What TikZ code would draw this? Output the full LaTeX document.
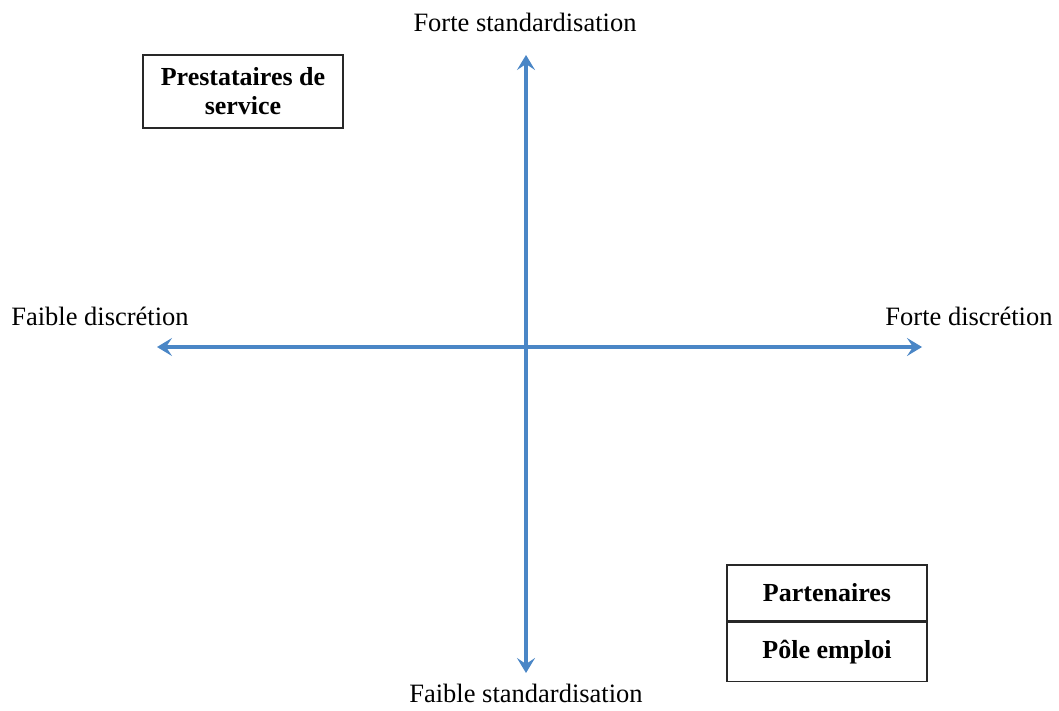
\documentclass[tikz,border=0pt]{standalone}
\usepackage{fontspec}
\setmainfont{Liberation Serif}
\usetikzlibrary{arrows.meta}
\definecolor{axisblue}{RGB}{74,134,198}
\definecolor{boxline}{RGB}{40,40,40}
\tikzset{
  axis/.style={draw=axisblue, line width=3.5pt, {Stealth[length=15pt,width=18pt,inset=6pt]}-{Stealth[length=15pt,width=18pt,inset=6pt]}},
  lbl/.style={font=\fontsize{26.5}{30}\selectfont, inner sep=0pt},
  catbox/.style={draw=boxline, line width=1.5pt, font=\bfseries\fontsize{26}{29}\selectfont, align=center, inner sep=0pt},
}
\begin{document}
\begin{tikzpicture}[x=1pt,y=-1pt]
\useasboundingbox (0,0) rectangle (1059,711);
\coordinate (top) at (526,55);
\coordinate (bot) at (526,673);
\coordinate (lft) at (157,347);
\coordinate (rgt) at (922,347);
\draw[axis] (top) -- (bot);
\draw[axis] (lft) -- (rgt);
\node[lbl] (ts) at (525,22) {Forte standardisation};
\node[lbl] (bs) at (526,693) {Faible standardisation};
\node[lbl] (fd) at (100,316) {Faible discrétion};
\node[lbl] (rd) at (969,316) {Forte discrétion};
\node[catbox, minimum width=200pt, minimum height=73pt] (ps) at (243,91.5) {Prestataires de\\service};
\node[catbox, minimum width=200pt, minimum height=56pt] (pa) at (827,593) {Partenaires};
\node[catbox, minimum width=200pt, minimum height=59pt, anchor=north] (pe) at (pa.south) {Pôle emploi};
\end{tikzpicture}
\end{document}
